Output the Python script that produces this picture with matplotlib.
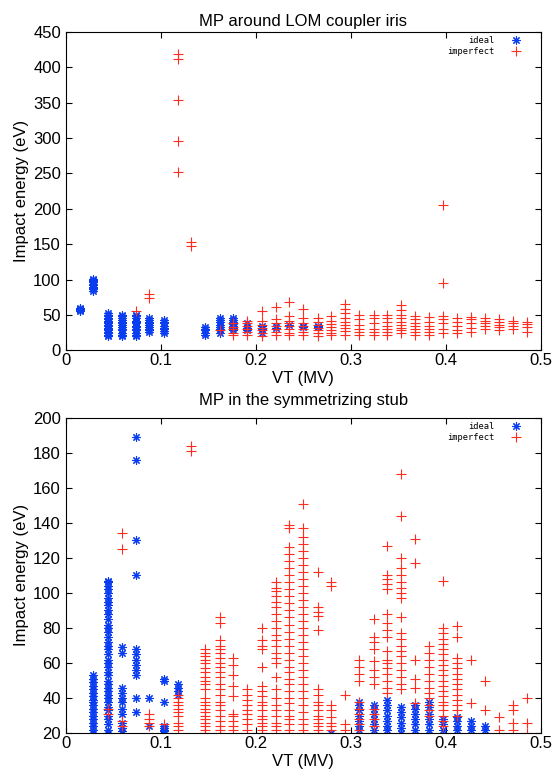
import numpy as np
import matplotlib
matplotlib.use("Agg")
import matplotlib.pyplot as plt

plt.rcParams['font.family'] = ['Liberation Sans', 'DejaVu Sans']

# VT steps (MV) shared by both scans
vt = [0.015, 0.029, 0.044, 0.059, 0.074, 0.088, 0.103, 0.118, 0.132, 0.147,
      0.162, 0.176, 0.191, 0.206, 0.221, 0.235, 0.250, 0.265, 0.279, 0.294,
      0.309, 0.324, 0.338, 0.353, 0.368, 0.382, 0.397, 0.412, 0.426, 0.441,
      0.456, 0.471, 0.485]

# --- MP around LOM coupler iris ---
top_ideal_idx = [1, 2, 3, 4, 5, 6, 7, 10, 11, 12, 13, 14, 15, 16, 17, 18]
top_ideal_e = [
    [56, 57, 58, 59, 60],
    [84, 86, 88, 90, 92, 94, 96, 98, 100, 101],
    [20, 22, 24, 26, 28, 30, 32, 34, 36, 38, 40, 42, 44, 46, 48, 50, 52],
    [20, 22, 25, 28, 30, 33, 36, 38, 40, 43, 46, 48, 50],
    [20, 22, 25, 28, 30, 33, 35, 38, 40, 42, 45, 48, 50],
    [26, 28, 30, 33, 36, 38, 40, 43, 46],
    [25, 27, 30, 32, 35, 38, 40, 43],
    [22, 25, 28, 30, 33],
    [25, 28, 30, 33, 36, 40, 43, 45],
    [28, 31, 34, 37, 40, 43, 45],
    [28, 32, 35, 38],
    [25, 30, 34],
    [32, 35],
    [36],
    [33, 35],
    [33, 35],
]
top_imp_idx = [5, 6, 8, 9] + list(range(11, 34))
top_imp_e = [
    [55],
    [74, 79],
    [252, 295, 354, 412, 418],
    [147, 153],
    [28],
    [22, 25, 30, 33, 38],
    [22, 26, 30, 34, 38, 42],
    [20, 24, 28, 32, 36, 42, 55],
    [22, 26, 30, 34, 38, 44, 61],
    [22, 25, 30, 34, 38, 42, 48, 68],
    [22, 26, 30, 34, 38, 45, 59],
    [20, 24, 28, 32, 36, 40, 45],
    [21, 25, 29, 33, 37, 42, 48],
    [22, 27, 32, 36, 40, 45, 52, 59, 66],
    [22, 26, 30, 36, 44, 50],
    [22, 26, 30, 38, 45, 50],
    [22, 26, 30, 34, 40, 45, 50],
    [24, 28, 32, 36, 40, 45, 50, 57, 64],
    [22, 26, 30, 34, 38, 44, 49],
    [22, 26, 30, 35, 40, 47],
    [24, 30, 38, 44, 48, 95, 205],
    [25, 28, 34, 40, 46],
    [26, 32, 38, 44, 47],
    [30, 34, 38, 42, 46],
    [28, 33, 36, 40, 44],
    [30, 34, 38, 42],
    [26, 33, 37, 40],
]

# --- MP in the symmetrizing stub ---
bot_ideal_idx = [2, 3, 4, 5, 6, 7, 8, 19, 21, 22, 23, 24, 25, 26, 27, 28, 29, 30]
bot_ideal_e = [
    [20, 22, 24, 26, 28, 30, 32, 34, 36, 38, 39, 41, 43, 45, 47, 49, 51, 53],
    [20, 22, 25, 28, 30, 33, 35, 38, 40, 42, 44, 46, 48, 50, 53, 55, 58, 60,
     62, 65, 68, 70, 72, 75, 78, 80, 82, 85, 88, 90, 93, 95, 97, 100, 102,
     104, 106, 107],
    [20, 21, 23, 26, 31, 34, 38, 40, 43, 46, 66, 69],
    [32, 40, 53, 56, 59, 62, 65, 68, 110, 130, 176, 189],
    [24, 40],
    [20, 21, 22, 23, 24, 38, 50, 51],
    [42, 44, 46, 48],
    [20],
    [22, 24, 27, 30, 33, 36, 38],
    [22, 25, 28, 31, 34, 36],
    [22, 24, 27, 30, 33, 36, 39],
    [20, 23, 26, 29, 32, 35],
    [22, 25, 28, 31, 34, 36],
    [22, 25, 28, 31, 35, 38],
    [22, 25, 28],
    [22, 24, 27, 29],
    [22, 24, 27],
    [22, 24],
]
bot_imp_idx = [3, 4, 6, 7, 8, 9] + list(range(10, 34))
bot_imp_e = [
    [31, 34],
    [24, 27, 125, 134],
    [24, 26, 28, 31],
    [25],
    [22, 24, 26, 30, 32, 34, 36, 38, 40, 42],
    [181, 184],
    [20, 22, 24, 26, 28, 30, 32, 34, 36, 38, 40, 45, 48, 50, 52, 55, 57, 60,
     62, 64, 66, 68],
    [20, 22, 24, 27, 30, 33, 36, 38, 42, 45, 48, 52, 55, 58, 60, 63, 66, 68,
     70, 73, 83, 86],
    [22, 24, 27, 30, 31, 41, 47, 53, 59, 63],
    [22, 25, 28, 31, 33, 36, 39, 42, 45],
    [20, 22, 24, 26, 28, 30, 33, 36, 38, 41, 44, 47, 58, 68, 70, 73, 80],
    [22, 24, 26, 30, 33, 36, 40, 45, 52, 60, 63, 66, 70, 73, 76, 80, 84, 88,
     92, 95, 98, 101, 103, 106],
    [20, 22, 25, 28, 30, 33, 37, 40, 44, 48, 51, 55, 58, 62, 66, 70, 74, 78,
     82, 86, 90, 94, 98, 102, 106, 110, 114, 118, 122, 126, 137, 139],
    [20, 22, 25, 28, 32, 36, 40, 44, 48, 52, 56, 60, 64, 68, 72, 76, 80, 84,
     88, 92, 96, 100, 104, 108, 112, 116, 120, 124, 128, 132, 137, 151],
    [20, 22, 24, 26, 28, 30, 33, 36, 38, 42, 45, 79, 87, 89, 92, 112],
    [22, 24, 26, 29, 33, 36, 104, 106],
    [22, 25, 42],
    [22, 25, 28, 31, 34, 38, 50, 54, 58, 62],
    [24, 28, 31, 34, 48, 52, 56, 61, 68, 72, 75, 85],
    [43, 46, 50, 54, 57, 60, 62, 67, 75, 79, 83, 88, 102, 105, 108, 110, 127],
    [45, 48, 52, 56, 60, 64, 67, 70, 74, 77, 86, 97, 100, 103, 106, 110, 114,
     120, 144, 168],
    [37, 46, 51, 62, 117, 131],
    [30, 33, 36, 40, 43, 46, 50, 54, 58, 62, 66, 70],
    [24, 27, 30, 33, 36, 38, 41, 44, 47, 50, 53, 56, 59, 62, 65, 68, 71, 74,
     77, 80, 107],
    [30, 33, 36, 39, 42, 45, 48, 51, 54, 57, 60, 63, 75, 81],
    [37, 62],
    [33, 50],
    [22, 29],
    [22, 26, 33, 36],
    [20, 26, 40],
]

BLUE = '#0a3cf0'
RED = '#ff2d20'


def columns(idx, energies):
    xs, ys = [], []
    for k, e in zip(idx, energies):
        xs.extend([vt[k - 1]] * len(e))
        ys.extend(e)
    return np.array(xs), np.array(ys)


def draw(ax, ideal, imp, title, ylim, yticks, title_pad):
    xi, yi = columns(*ideal)
    xr, yr = columns(*imp)
    ax.plot(xi, yi, linestyle='none', marker=(8, 2, 0), ms=6, mew=0.8,
            color=BLUE, label='ideal')
    ax.plot(xr, yr, linestyle='none', marker='+', ms=7, mew=0.8,
            color=RED, label='imperfect')
    ax.set_xlim(0, 0.5)
    ax.set_ylim(*ylim)
    ax.set_yticks(yticks)
    ax.set_xticks([0, 0.1, 0.2, 0.3, 0.4, 0.5])
    ax.set_xticklabels(['0', '0.1', '0.2', '0.3', '0.4', '0.5'])
    ax.tick_params(direction='in', top=True, right=True, length=4,
                   labelsize=12)
    ax.tick_params(axis='x', pad=2)
    ax.tick_params(axis='y', pad=3.5)
    ax.set_title(title, fontsize=12, pad=title_pad)
    ax.set_xlabel('VT (MV)', fontsize=12, labelpad=2)
    ax.set_ylabel('Impact energy (eV)', fontsize=12, labelpad=3)
    ax.legend(loc='upper right', bbox_to_anchor=(0.966, 0.997),
              markerfirst=False, frameon=False,
              prop={'family': 'DejaVu Sans Mono', 'size': 6.3},
              handletextpad=1.8, borderaxespad=0, labelspacing=0.25,
              handlelength=1.2)


fig = plt.figure(figsize=(5.53, 7.75), dpi=100)
ax1 = fig.add_axes([0.119, 0.548, 0.859, 0.411])
ax2 = fig.add_axes([0.119, 0.054, 0.859, 0.407])

draw(ax1, (top_ideal_idx, top_ideal_e), (top_imp_idx, top_imp_e),
     'MP around LOM coupler iris', (0, 450), range(0, 451, 50), 4.5)
draw(ax2, (bot_ideal_idx, bot_ideal_e), (bot_imp_idx, bot_imp_e),
     'MP in the symmetrizing stub', (20, 200), range(20, 201, 20), 9.5)

fig.savefig('out.png', dpi=100)
